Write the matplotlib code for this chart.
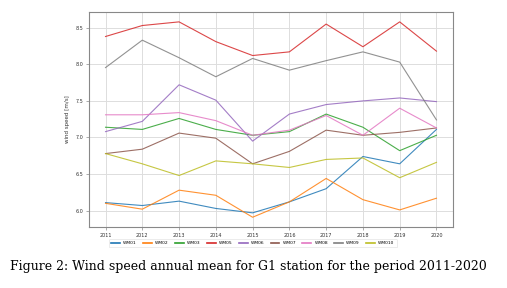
import matplotlib
matplotlib.use("Agg")
import matplotlib.pyplot as plt

years = [2011, 2012, 2013, 2014, 2015, 2016, 2017, 2018, 2019, 2020]
series_names = ["WM01", "WM02", "WM03", "WM05", "WM06", "WM07", "WM08", "WM09", "WM010"]
wm01 = [6.11, 6.07, 6.13, 6.03, 5.97, 6.12, 6.30, 6.74, 6.64, 7.11]
wm02 = [6.10, 6.02, 6.28, 6.21, 5.91, 6.12, 6.44, 6.15, 6.01, 6.17]
wm03 = [7.14, 7.11, 7.26, 7.11, 7.03, 7.08, 7.32, 7.14, 6.82, 7.03]
wm05 = [8.38, 8.53, 8.58, 8.31, 8.12, 8.17, 8.55, 8.24, 8.58, 8.18]
wm06 = [7.08, 7.22, 7.72, 7.51, 6.95, 7.32, 7.45, 7.50, 7.54, 7.49]
wm07 = [6.78, 6.84, 7.06, 6.99, 6.64, 6.81, 7.10, 7.03, 7.07, 7.13]
wm08 = [7.31, 7.31, 7.34, 7.23, 7.03, 7.10, 7.30, 7.03, 7.40, 7.13]
wm09 = [7.955, 8.33, 8.09, 7.83, 8.08, 7.92, 8.05, 8.17, 8.03, 7.24]
wm010 = [6.78, 6.64, 6.48, 6.68, 6.64, 6.59, 6.70, 6.72, 6.45, 6.66]
all_series = [wm01, wm02, wm03, wm05, wm06, wm07, wm08, wm09, wm010]
colors = ["tab:blue", "tab:orange", "tab:green", "tab:red", "tab:purple",
          "tab:brown", "tab:pink", "tab:gray", "tab:olive"]

fig = plt.figure(figsize=(5.07, 2.88), dpi=100)
ax = fig.add_axes([0.1755, 0.2118, 0.718, 0.7462])
for name, vals, c in zip(series_names, all_series, colors):
    ax.plot(years, vals, color=c, lw=0.8, alpha=0.85, label=name)

ax.set_xticks(years)
ax.set_xticklabels([str(y) for y in years])
ax.set_yticks([6.0, 6.5, 7.0, 7.5, 8.0, 8.5])
ax.tick_params(labelsize=3.5, length=2, width=0.5, color="#888888", pad=2, labelcolor="#333333")
ax.grid(True, color="#dddddd", lw=0.7)
ax.set_axisbelow(True)
for s in ax.spines.values():
    s.set_color("#888888")
    s.set_linewidth(0.8)
ax.set_ylabel("wind speed [m/s]", fontsize=4, color="#333333", labelpad=4)

leg = ax.legend(loc="upper center", bbox_to_anchor=(0.45, -0.045), ncol=9,
                fontsize=3.2, frameon=True, handlelength=2.0, columnspacing=1.4,
                borderpad=0.5, handletextpad=0.7)
for ln in leg.get_lines():
    ln.set_linewidth(1.2)
    ln.set_alpha(1.0)
leg.get_frame().set_edgecolor("#dddddd")
leg.get_frame().set_linewidth(0.5)

fig.text(0.49, 0.075, "Figure 2: Wind speed annual mean for G1 station for the period 2011-2020",
         ha="center", va="center", fontsize=9, family="DejaVu Serif")

fig.savefig("out.png", dpi=100)
